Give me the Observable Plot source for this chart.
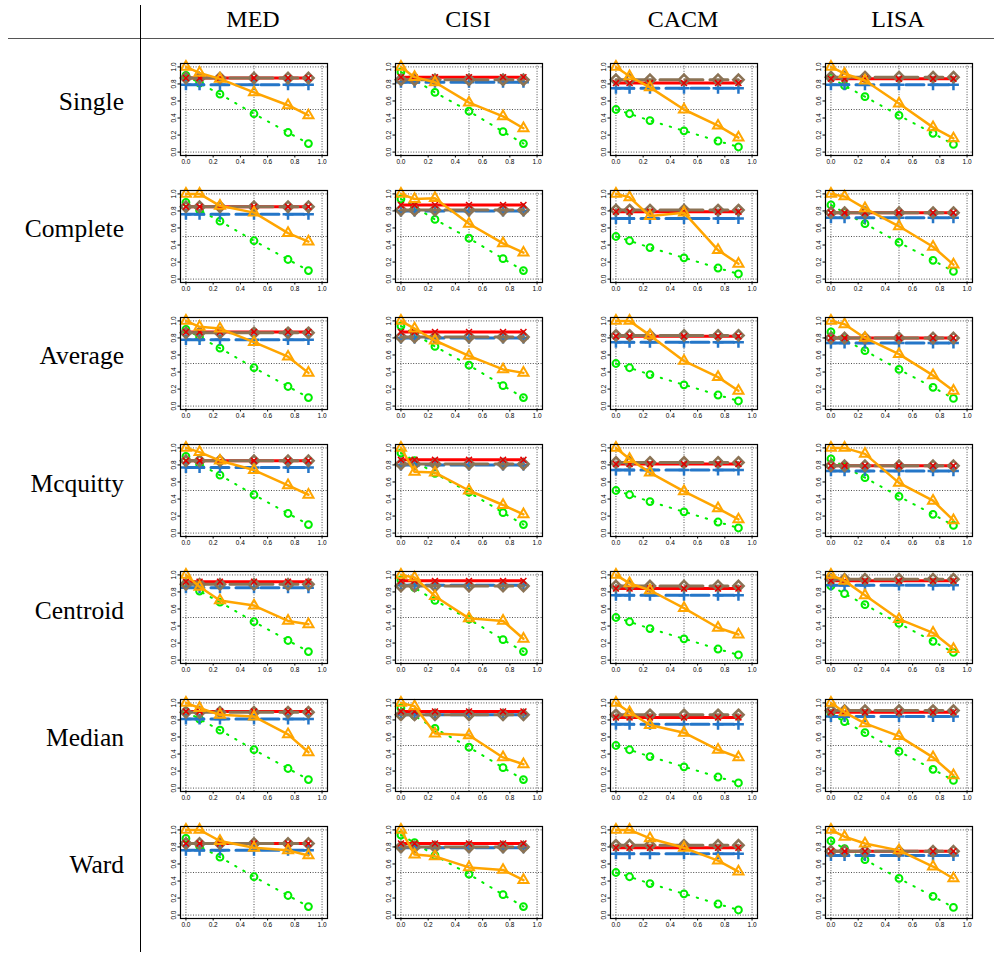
<!DOCTYPE html>
<html><head><meta charset="utf-8">
<script src="https://cdn.jsdelivr.net/npm/d3@7"></script>
<script src="https://cdn.jsdelivr.net/npm/@observablehq/plot@0.6"></script>
<style>
body{margin:0;background:#fff;}
#wrap{position:relative;width:994px;height:955px;overflow:hidden;background:#fff;}
.lbl{position:absolute;font-family:"Liberation Serif","Times New Roman",serif;font-size:24px;line-height:1;white-space:nowrap;color:#000;}
.row{font-size:25.5px;}
.panel{position:absolute;}
.hline{position:absolute;background:#555;}
</style></head><body><div id="wrap"></div>
<script>
const datasets = ["MED", "CISI", "CACM", "LISA"];
const methods = ["Single", "Complete", "Average", "Mcquitty", "Centroid", "Median", "Ward"];
const xValues = [0, 0.1, 0.25, 0.5, 0.75, 0.9];
const xTicks = [0, 0.2, 0.4, 0.6, 0.8, 1.0];
const yTicks = [0, 0.2, 0.4, 0.6, 0.8, 1.0];

// green dotted series with circles: one per dataset (same on every row)
const greenValues = [
  [0.90, 0.81, 0.68, 0.45, 0.23, 0.10],
  [0.94, 0.85, 0.70, 0.48, 0.24, 0.10],
  [0.50, 0.45, 0.37, 0.25, 0.13, 0.06],
  [0.87, 0.78, 0.65, 0.43, 0.22, 0.09]
];
// constant levels [method][dataset]
const redValues = [
  [0.87, 0.88, 0.81, 0.86],
  [0.85, 0.87, 0.79, 0.78],
  [0.87, 0.87, 0.82, 0.80],
  [0.85, 0.86, 0.81, 0.79],
  [0.92, 0.93, 0.84, 0.93],
  [0.90, 0.90, 0.83, 0.89],
  [0.84, 0.84, 0.79, 0.75]
];
const brownValues = [
  [0.87, 0.85, 0.85, 0.88],
  [0.85, 0.81, 0.81, 0.78],
  [0.86, 0.81, 0.83, 0.80],
  [0.85, 0.81, 0.83, 0.79],
  [0.89, 0.87, 0.87, 0.95],
  [0.89, 0.86, 0.86, 0.91],
  [0.84, 0.80, 0.82, 0.75]
];
const blueValues = [
  [0.79, 0.82, 0.75, 0.79],
  [0.76, 0.80, 0.71, 0.72],
  [0.78, 0.80, 0.75, 0.74],
  [0.77, 0.80, 0.74, 0.73],
  [0.85, 0.88, 0.76, 0.88],
  [0.81, 0.86, 0.75, 0.84],
  [0.76, 0.79, 0.72, 0.70]
];
// orange series [method][dataset][x]
const orangeValues = [
  [[1.0, 0.93, 0.86, 0.70, 0.55, 0.43], [1.0, 0.88, 0.82, 0.58, 0.42, 0.28], [1.0, 0.89, 0.76, 0.50, 0.31, 0.17], [1.0, 0.92, 0.84, 0.57, 0.29, 0.16]],
  [[1.0, 1.0, 0.86, 0.78, 0.54, 0.44], [1.0, 0.94, 0.95, 0.65, 0.42, 0.31], [1.0, 0.96, 0.74, 0.78, 0.34, 0.18], [1.0, 0.97, 0.83, 0.62, 0.38, 0.17]],
  [[1.0, 0.93, 0.91, 0.75, 0.58, 0.39], [1.0, 0.91, 0.77, 0.59, 0.43, 0.39], [1.0, 1.0, 0.83, 0.53, 0.34, 0.18], [1.0, 0.96, 0.80, 0.61, 0.36, 0.18]],
  [[1.0, 0.95, 0.85, 0.74, 0.56, 0.45], [1.0, 0.72, 0.71, 0.50, 0.33, 0.22], [1.0, 0.87, 0.71, 0.49, 0.29, 0.16], [1.0, 1.0, 0.93, 0.59, 0.38, 0.15]],
  [[1.0, 0.86, 0.70, 0.64, 0.46, 0.42], [1.0, 0.97, 0.75, 0.49, 0.46, 0.25], [1.0, 0.90, 0.82, 0.61, 0.38, 0.30], [1.0, 0.93, 0.76, 0.48, 0.32, 0.13]],
  [[1.0, 0.94, 0.86, 0.84, 0.63, 0.42], [1.0, 0.96, 0.64, 0.62, 0.36, 0.28], [1.0, 0.89, 0.74, 0.65, 0.45, 0.36], [1.0, 0.89, 0.76, 0.61, 0.36, 0.15]],
  [[1.0, 1.0, 0.87, 0.79, 0.76, 0.70], [1.0, 0.71, 0.69, 0.56, 0.53, 0.41], [1.0, 1.0, 0.90, 0.79, 0.64, 0.51], [1.0, 0.92, 0.84, 0.76, 0.57, 0.43]]
];

const wrap = document.getElementById("wrap");
const colors = {green: "#00ee00", blue: "#2476c8", red: "#ff0000", brown: "#8b7355", orange: "#ffa500"};

// table lines
function addLine(l, t, w, h, c) {
  const d = document.createElement("div");
  d.className = "hline";
  Object.assign(d.style, {left: l + "px", top: t + "px", width: w + "px", height: h + "px", background: c});
  wrap.appendChild(d);
}
addLine(8, 37.5, 986, 1.3, "#555");
addLine(139.5, 5, 1, 947, "#000");

// headers
datasets.forEach((name, c) => {
  const d = document.createElement("div");
  d.className = "lbl";
  d.textContent = name;
  d.style.left = (253 + 215 * c) + "px";
  d.style.top = "19px";
  d.style.transform = "translate(-50%,-50%)";
  wrap.appendChild(d);
});
methods.forEach((name, r) => {
  const d = document.createElement("div");
  d.className = "lbl row";
  d.textContent = name;
  d.style.right = (994 - 124) + "px";
  d.style.top = (102 + 127.2 * r) + "px";
  d.style.transform = "translateY(-50%)";
  wrap.appendChild(d);
});

const fmt = d3.format(".1f");
const series = (ys) => xValues.map((x, i) => ({x, y: ys[i]}));
const level = (v) => xValues.map((x) => ({x, y: v}));

methods.forEach((m, r) => {
  datasets.forEach((ds, c) => {
    const green = series(greenValues[c]);
    const orange = series(orangeValues[r][c]);
    const red = level(redValues[r][c]);
    const brown = level(brownValues[r][c]);
    const blue = level(blueValues[r][c]);
    const grid = {stroke: "#222", strokeDasharray: "1,1.6", strokeWidth: 0.8};
    const chart = Plot.plot({
      width: 175, height: 118,
      marginLeft: 22, marginRight: 6, marginTop: 4, marginBottom: 22,
      x: {domain: [-0.04, 1.04]},
      y: {domain: [-0.04, 1.04]},
      style: {background: "none", overflow: "visible", fontFamily: "'Liberation Sans', Arial, sans-serif"},
      marks: [
        Plot.ruleY([0, 0.5, 1], grid),
        Plot.ruleX([0, 0.5, 1], grid),
        Plot.line(green, {x: "x", y: "y", stroke: colors.green, strokeWidth: 2, strokeDasharray: "1.4,8"}),
        Plot.dot(green, {x: "x", y: "y", r: 3.4, stroke: colors.green, strokeWidth: 2, fill: "none"}),
        Plot.line(blue, {x: "x", y: "y", stroke: colors.blue, strokeWidth: 3, strokeDasharray: "18,7"}),
        Plot.dot(blue, {x: "x", y: "y", symbol: "plus", r: 3.6, stroke: colors.blue, strokeWidth: 2.5}),
        Plot.line(red, {x: "x", y: "y", stroke: colors.red, strokeWidth: 3}),
        Plot.line(brown, {x: "x", y: "y", stroke: colors.brown, strokeWidth: 3, strokeDasharray: "18,7", strokeDashoffset: 6}),
        Plot.dot(brown, {x: "x", y: "y", symbol: "diamond2", r: 4.6, stroke: colors.brown, strokeWidth: 2.6, fill: "none"}),
        Plot.dot(red, {x: "x", y: "y", symbol: "times", r: 2.8, stroke: "#e00000", strokeWidth: 1.5}),
        Plot.line(orange, {x: "x", y: "y", stroke: colors.orange, strokeWidth: 2.5}),
        Plot.dot(orange, {x: "x", y: "y", symbol: "triangle2", r: 4.8, stroke: colors.orange, strokeWidth: 2, fill: "none"}),
        Plot.frame({stroke: "#000", strokeWidth: 1.2}),
        Plot.axisX({ticks: xTicks, tickFormat: fmt, tickSize: 2.5, tickPadding: 1, fontSize: 6.5, label: null}),
        Plot.axisY({ticks: yTicks, tickFormat: fmt, tickSize: 2.5, tickPadding: 2, tickRotate: -90, fontSize: 6.5, label: null})
      ]
    });
    chart.classList.add("panel");
    chart.style.left = (157.6 + 215 * c) + "px";
    chart.style.top = (58.6 + 127.2 * r) + "px";
    wrap.appendChild(chart);
  });
});
</script></body></html>
